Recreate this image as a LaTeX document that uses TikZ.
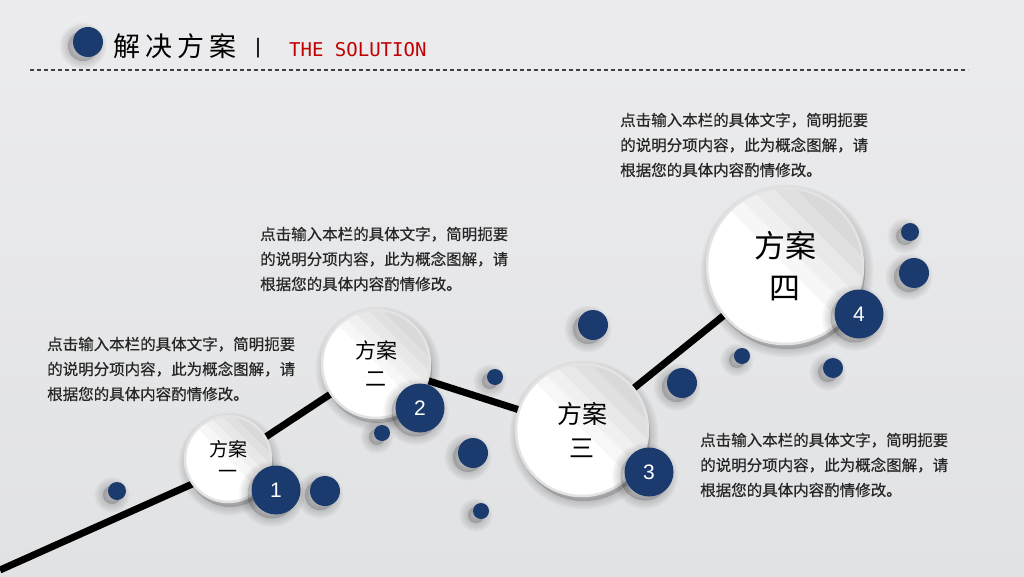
\documentclass[tikz,border=0pt]{standalone}
\usepackage{fontspec}
\newfontfamily\cjk{Noto Sans CJK SC}
\newfontfamily\cjknote{Noto Sans CJK SC}[FakeBold=0.6]
\newfontfamily\numfont{Liberation Sans}
\newfontfamily\monofont{DejaVu Sans Mono}
\usetikzlibrary{backgrounds}
\definecolor{planblue}{HTML}{1B3B6F}
\definecolor{planred}{HTML}{C00000}
\definecolor{plantop}{HTML}{ECECEE}
\definecolor{planbottom}{HTML}{E1E2E4}
\pgfdeclareverticalshading{planbands}{100bp}{color(0bp)=(white); color(50bp)=(white); color(50bp)=(gray!6); color(55bp)=(gray!6); color(55bp)=(gray!12); color(60bp)=(gray!12); color(60bp)=(gray!18); color(65bp)=(gray!18); color(65bp)=(gray!24); color(70bp)=(gray!24); color(70bp)=(gray!30); color(100bp)=(gray!30)}
\tikzset{
  planshade/.style n args={3}{preaction={transform canvas={shift={(#1,#2)}}, fill=black, draw=black, opacity=0.028, line width=#3}},
  planshadow/.style 2 args={planshade={#1}{#2}{17pt}, planshade={#1}{#2}{14pt}, planshade={#1}{#2}{11pt},
    planshade={#1}{#2}{8pt}, planshade={#1}{#2}{5pt}, planshade={#1}{#2}{2pt}},
  plancircle/.style={circle, draw=gray!22, line width=2.5pt, shading=planbands, shading angle=-45, inner sep=0pt, align=center, planshadow={2pt}{-5pt}},
  planbadge/.style={circle, fill=planblue, minimum size=49pt, inner sep=0pt, text=white, font=\numfont\fontsize{21}{21}\selectfont, planshadow={-4pt}{-4pt}},
  plandot/.style={circle, fill=planblue, inner sep=0pt, planshadow={-5pt}{-4pt}},
  plannote/.style={anchor=west, align=left, inner sep=0pt, text=black!85, font=\cjknote\fontsize{15.5}{25}\selectfont},
  planline/.style={line width=7pt, black},
  plandash/.style={line width=1.2pt, black!75, dash pattern=on 4pt off 3pt}
}
\newcommand{\notetext}{点击输入本栏的具体文字，简明扼要\\的说明分项内容，此为概念图解，请\\根据您的具体内容酌情修改。}
\newcommand{\planstep}[5] {\node at (#1) (#2) [plancircle, minimum size=#3pt, font=\cjk\fontsize{#4}{#4}\selectfont] {#5};}
\newcommand{\planbadge}[3] {\node at (#1) (#2) [planbadge] {#3};}
\newcommand{\plandot}[3] {\node at (#1) (#2) [plandot, minimum size=#3pt] {};}
\newcommand{\plannote}[2] {\node at (#1) (#2) [plannote] {\notetext};}
\begin{document}
\begin{tikzpicture}[x=1pt,y=1pt]

\useasboundingbox (0,0) rectangle (1024,576);
\begin{scope}[on background layer]
\shade [top color=plantop, bottom color=planbottom] (0,0) rectangle (1024,576);
\end{scope}

\plandot {88,534}{titleDot}{30}
\node at (113,530) (titleCn) [anchor=west, inner sep=0pt, font=\cjk\fontsize{27}{27}\selectfont] {解\hspace{5pt}决\hspace{5pt}方\hspace{5pt}案};
\node at (258,528) (titleBar) [inner sep=0pt, font=\numfont\fontsize{21}{21}\selectfont] {|};
\node at (289,526) (titleEn) [anchor=west, inner sep=0pt, text=planred, font=\monofont\fontsize{19}{19}\selectfont] {THE SOLUTION};
\coordinate (dashL) at (30,506);
\coordinate (dashR) at (968,506);
\draw [plandash] (dashL) -- (dashR);

\planstep {228,117}{step1}{86}{19}{方案\\[3pt]一}
\planstep {376,212}{step2}{108}{21}{方案\\[7pt]二}
\planstep {582,146}{step3}{132}{25}{方案\\[9pt]三}
\planstep {785,310}{step4}{156}{31}{方案\\[11pt]四}

\planbadge {276,86}{badge1}{1}
\planbadge {420,168}{badge2}{2}
\planbadge {649,104}{badge3}{3}
\planbadge {859,262}{badge4}{4}

\plandot {117,85}{dotA}{18}
\plandot {325,85}{dotB}{30}
\plandot {382,143}{dotC}{16}
\plandot {495,199}{dotD}{16}
\plandot {593,251}{dotE}{30}
\plandot {473,123}{dotF}{30}
\plandot {481,65}{dotG}{16}
\plandot {682,193}{dotH}{30}
\plandot {742,220}{dotI}{16}
\plandot {833,208}{dotJ}{20}
\plandot {910,344}{dotK}{18}
\plandot {914,303}{dotL}{30}

\plannote {47,207}{note1}
\plannote {260,317}{note2}
\plannote {620,431}{note3}
\plannote {700,111}{note4}

\coordinate (lineStart) at (0,6);
\coordinate (lineBend) at (199,95);
\begin{scope}[on background layer]
\draw [planline] (lineStart) -- (lineBend) -- (step2.center) -- (step3.center) -- (step4.center);
\end{scope}

\end{tikzpicture}
\end{document}
